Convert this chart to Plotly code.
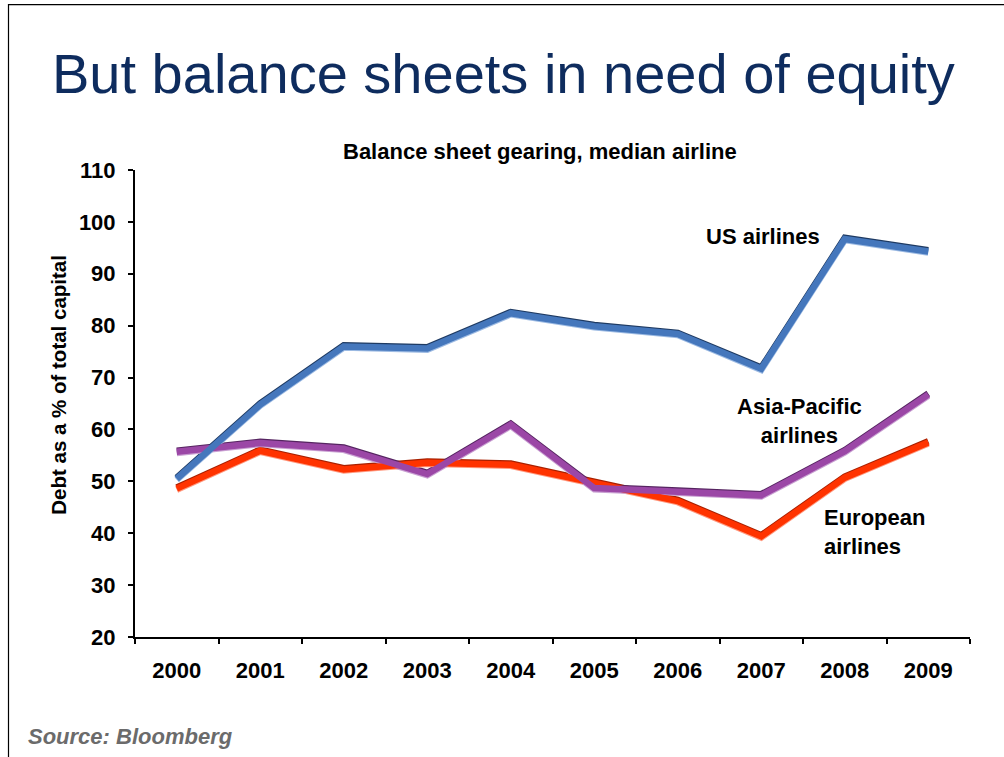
import plotly.graph_objects as go

years = ["2000", "2001", "2002", "2003", "2004", "2005", "2006", "2007", "2008", "2009"]
us_airlines = [50.5, 64.8, 76.0, 75.6, 82.4, 79.9, 78.4, 71.7, 96.7, 94.3]
asia_pacific = [55.7, 57.4, 56.3, 51.4, 60.9, 48.7, 48.0, 47.3, 55.8, 66.7]
european = [48.6, 55.9, 52.3, 53.6, 53.2, 49.6, 46.2, 39.4, 50.7, 57.5]
y_ticks = [20, 30, 40, 50, 60, 70, 80, 90, 100, 110]

FONT = "Arial, Liberation Sans, sans-serif"

W, H = 1004, 757
PL, PR, PT, PB = 135, 970, 170, 637.5
PW, PH = PR - PL, PB - PT


def px(x):
    return (x - PL) / PW


def py(y):
    return (PB - y) / PH


series = [
    ("European airlines", european, "#FF3300", "#A82000", "#FF9A80"),
    ("Asia-Pacific airlines", asia_pacific, "#9B47A6", "#552460", "#C9A0D2"),
    ("US airlines", us_airlines, "#4577BC", "#1E3A62", "#9DBBE3"),
]

fig = go.Figure()
# dark upper edges (base axis, range shifted so they sit ~1px higher)
for name, vals, main, dark, light in series:
    fig.add_trace(go.Scatter(x=years, y=vals, mode="lines", yaxis="y",
                             line=dict(color=dark, width=6.5), hoverinfo="skip",
                             showlegend=False))
# light lower edges
for name, vals, main, dark, light in series:
    fig.add_trace(go.Scatter(x=years, y=vals, mode="lines", yaxis="y2",
                             line=dict(color=light, width=6.5), hoverinfo="skip",
                             showlegend=False))
# main lines on the visible axis
for name, vals, main, dark, light in series:
    fig.add_trace(go.Scatter(x=years, y=vals, mode="lines", name=name, yaxis="y3",
                             line=dict(color=main, width=6.5), showlegend=False))

tickfont = dict(family=FONT, size=22, color="black", weight="bold")
fig.update_layout(
    width=W, height=H,
    margin=dict(l=PL, r=W - PR, t=PT, b=H - PB),
    paper_bgcolor="white", plot_bgcolor="white",
    font=dict(family=FONT, color="black"),
    xaxis=dict(
        type="category", showgrid=False, zeroline=False,
        showline=True, linecolor="black", linewidth=2,
        ticks="outside", ticklen=5, tickwidth=1.5, tickcolor="black",
        tickson="boundaries", ticklabelstandoff=13,
        tickfont=tickfont, range=[-0.5, 9.5],
    ),
    yaxis=dict(range=[19.78, 109.78], visible=False, showgrid=False, zeroline=False),
    yaxis2=dict(range=[20.22, 110.22], overlaying="y", visible=False),
    yaxis3=dict(
        range=[20, 110], overlaying="y", side="left", tickvals=y_ticks,
        showgrid=False, zeroline=False,
        showline=True, linecolor="black", linewidth=2,
        ticks="outside", ticklen=5, tickwidth=1.5, tickcolor="black",
        tickfont=tickfont, ticklabelstandoff=8,
    ),
)

fig.add_annotation(text="But balance sheets in need of equity", xref="paper", yref="paper",
                   x=px(503), y=py(73), showarrow=False,
                   xanchor="center", yanchor="middle",
                   font=dict(family=FONT, size=56, color="#0E2C5E"))
fig.add_annotation(text="<b>Balance sheet gearing, median airline</b>", xref="paper", yref="paper",
                   x=px(540), y=py(151), showarrow=False,
                   xanchor="center", yanchor="middle",
                   font=dict(family=FONT, size=22, color="black"))
fig.add_annotation(text="<b>Debt as a % of total capital</b>", xref="paper", yref="paper",
                   x=px(59), y=py(385), showarrow=False,
                   textangle=-90, xanchor="center", yanchor="middle",
                   font=dict(family=FONT, size=20.5, color="black"))
fig.add_annotation(text="<b>US airlines</b>", xref="paper", yref="paper",
                   x=px(763), y=py(237), showarrow=False,
                   xanchor="center", yanchor="middle",
                   font=dict(family=FONT, size=22, color="black"))
fig.add_annotation(text="<b>Asia-Pacific<br>airlines</b>", xref="paper", yref="paper",
                   x=px(799), y=py(421), showarrow=False,
                   xanchor="center", yanchor="middle", align="center",
                   font=dict(family=FONT, size=22, color="black"))
fig.add_annotation(text="<b>European<br>airlines</b>", xref="paper", yref="paper",
                   x=px(822), y=py(532), showarrow=False,
                   xanchor="left", yanchor="middle", align="left",
                   font=dict(family=FONT, size=22, color="black"))
fig.add_annotation(text="<b><i>Source: Bloomberg</i></b>", xref="paper", yref="paper",
                   x=px(26), y=py(737), showarrow=False,
                   xanchor="left", yanchor="middle",
                   font=dict(family=FONT, size=22, color="#6B6B6B"))

# slide frame
fig.add_shape(type="rect", xref="paper", yref="paper",
              x0=px(8.5), x1=px(1100), y0=py(900), y1=py(4.5),
              line=dict(color="black", width=1.2), fillcolor="rgba(0,0,0,0)", layer="below")

fig.write_html("out.html", config={"displayModeBar": False},
               post_script="document.body.style.margin='0px';document.body.style.padding='0px';")
